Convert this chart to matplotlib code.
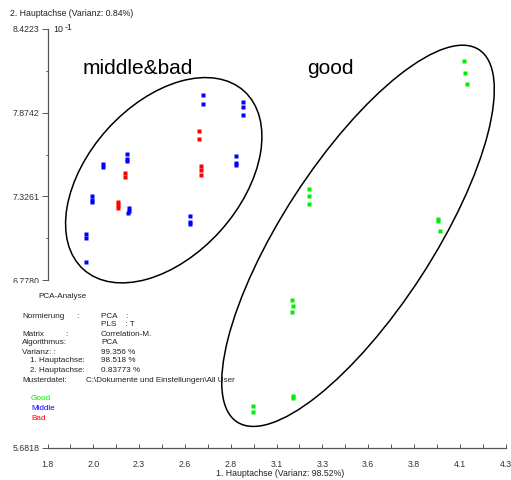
import matplotlib
matplotlib.use("Agg")
import matplotlib.pyplot as plt
from matplotlib.patches import Ellipse, Rectangle
from matplotlib.transforms import IdentityTransform, ScaledTranslation
import numpy as np

plt.rcParams['font.family'] = ['Liberation Sans', 'DejaVu Sans']

# ---- data ----
good_x = [4.076, 4.079, 4.090, 3.226, 3.226, 3.226, 3.933, 3.931, 3.940,
          3.136, 3.140, 3.133, 3.140, 3.140, 2.924, 2.924]
good_y = [8.212, 8.136, 8.062, 7.373, 7.327, 7.279, 7.181, 7.165, 7.098,
          6.650, 6.608, 6.568, 6.020, 6.003, 5.952, 5.913]
middle_x = [2.651, 2.651, 2.865, 2.865, 2.865, 2.829, 2.829, 2.829,
            2.235, 2.235, 2.235, 2.105, 2.105, 2.042, 2.042, 2.045,
            2.243, 2.243, 2.240, 2.577, 2.577, 2.577, 2.010, 2.010, 2.008]
middle_y = [7.987, 7.930, 7.946, 7.913, 7.858, 7.590, 7.542, 7.530,
            7.603, 7.574, 7.557, 7.537, 7.519, 7.327, 7.305, 7.290,
            7.250, 7.229, 7.218, 7.196, 7.159, 7.144, 7.078, 7.056, 6.899]
bad_x = [2.626, 2.626, 2.639, 2.637, 2.637, 2.221, 2.221, 2.183, 2.183, 2.183]
bad_y = [7.754, 7.699, 7.524, 7.502, 7.465, 7.480, 7.454, 7.290, 7.268, 7.250]

x_ticks = [1.8, 2.05, 2.3, 2.55, 2.8, 3.05, 3.3, 3.55, 3.8, 4.05, 4.3]
x_tick_labels = ["1.8", "2.0", "2.3", "2.6", "2.8", "3.1", "3.3", "3.6", "3.8", "4.1", "4.3"]
y_ticks = [5.6818, 6.7780, 7.3261, 7.8742, 8.4223]
y_tick_labels = ["5.6818", "6.7780", "7.3261", "7.8742", "8.4223"]

W, H = 511, 480
fig = plt.figure(figsize=(W / 100, H / 100), dpi=100)
ax = fig.add_axes([47.5 / W, 1 - 447.5 / H, (505.5 - 47.5) / W, (447.5 - 29) / H])
ax.set_xlim(1.8, 4.3)
ax.set_ylim(5.6818, 8.4223)

col_good, col_mid, col_bad = '#00ee00', '#0000ff', '#ff0000'
ax.plot(good_x, good_y, 's', color=col_good, ms=3, mec='none', zorder=3)
ax.plot(middle_x, middle_y, 's', color=col_mid, ms=3, mec='none', zorder=3)
ax.plot(bad_x, bad_y, 's', color=col_bad, ms=3, mec='none', zorder=3)

# cluster ellipses (size in pixels, centre in data units)
for (cx, cy, a, b, ang) in [(2.4345, 7.432, 120, 76, 48), (3.495, 7.068, 222, 75, 57)]:
    tr = IdentityTransform() + ScaledTranslation(cx, cy, ax.transData)
    e = Ellipse((0, 0), 2 * a, 2 * b, angle=ang, transform=tr, fill=False,
                ec='black', lw=1.1, zorder=2)
    ax.add_patch(e)

for s in ['top', 'right']:
    ax.spines[s].set_visible(False)
ax.spines['left'].set_bounds(6.7780, 8.4223)
ax.spines['left'].set_color('#555555')
ax.spines['bottom'].set_color('#555555')
ax.spines['left'].set_linewidth(0.9)
ax.spines['bottom'].set_linewidth(0.9)

ax.set_xticks(x_ticks)
ax.set_xticklabels(x_tick_labels)
ax.set_xticks([v + 0.125 for v in x_ticks[:-1]], minor=True)
ax.set_yticks(y_ticks)
ax.set_yticklabels(y_tick_labels)
ax.set_yticks([(y_ticks[i] + y_ticks[i + 1]) / 2 for i in range(1, 4)], minor=True)
ax.tick_params(axis='x', which='both', direction='in', length=3, width=0.7,
               labelsize=6.3, pad=9, colors='#555555', labelcolor='#333333')
ax.tick_params(axis='y', which='major', direction='out', length=4, width=0.7,
               labelsize=6.3, pad=2, colors='#555555', labelcolor='#333333')
ax.tick_params(axis='y', which='minor', direction='out', length=1.5, width=0.7, colors='#555555')

def fx(x):
    return x / W

def fy(y):
    return 1 - y / H

tcol = '#222222'
fs = 6.3
fsi = 5.9
fig.text(fx(280), fy(474), "1. Hauptachse (Varianz: 98.52%)", fontsize=fs, ha='center', va='center', color=tcol)
fig.text(fx(10), fy(14), "2. Hauptachse (Varianz: 0.84%)", fontsize=fs, ha='left', va='center', color=tcol)
fig.text(fx(53), fy(30), "10", fontsize=fs, ha='left', va='center', color=tcol)
fig.text(fx(65), fy(27), "-1", fontsize=fs, ha='left', va='center', color=tcol)

fig.text(fx(83), fy(69), "middle&bad", fontsize=15, ha='left', va='center', color='black')
fig.text(fx(307), fy(69), "good", fontsize=15, ha='left', va='center', color='black')

# white cover of the info box over the axis region
fig.patches.append(Rectangle((0, fy(438)), fx(44), fy(283) - fy(438), transform=fig.transFigure,
                             facecolor='white', edgecolor='none', zorder=5))

info = [
    (38, 297, "PCA-Analyse"),
    (22, 316, "Normierung"), (76, 316, ":"), (101, 316, "PCA    :"),
    (101, 325, "PLS    : T"),
    (22, 334, "Matrix"), (65, 334, ":"), (101, 334, "Correlation-M."),
    (22, 343, "Algorithmus:"), (101, 343, "PCA"),
    (22, 352, "Varianz: :"), (101, 352, "99.356 %"),
    (30, 361, "1. Hauptachse:"), (101, 361, "98.518 %"),
    (30, 370, "2. Hauptachse:"), (101, 370, "0.83773 %"),
    (22, 380, "Musterdatei:"), (86, 380, "C:\\Dokumente und Einstellungen\\All User"),
]
for x, y, t in info:
    fig.text(fx(x), fy(y), t, fontsize=fsi, ha='left', va='center', color=tcol, zorder=6)

for y, t, c in [(399, "Good", col_good), (409, "Middle", col_mid), (418, "Bad", col_bad)]:
    fig.text(fx(31), fy(y), t, fontsize=fsi, ha='left', va='center', color=c, zorder=6)

fig.savefig("out.png", dpi=100)
